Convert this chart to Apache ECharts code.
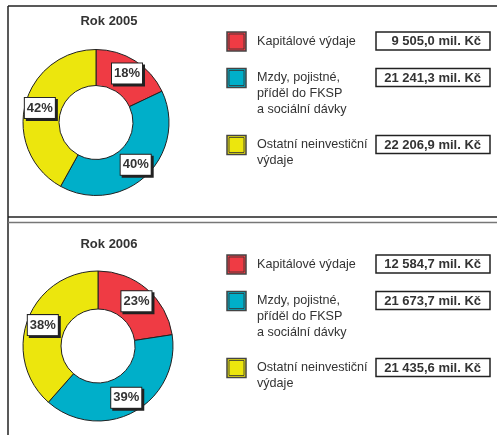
<!DOCTYPE html>
<html>
<head>
<meta charset="utf-8">
<script src="https://cdn.jsdelivr.net/npm/echarts@6/dist/echarts.min.js"></script>
<style>
html,body{margin:0;padding:0;background:#fff;}
#chart{width:497px;height:435px;}
</style>
</head>
<body>
<div id="chart"></div>
<script>
// ---- data ----
const categories = ['Kapitálové výdaje', 'Mzdy, pojistné,\npříděl do FKSP\na sociální dávky', 'Ostatní neinvestiční\nvýdaje'];
const years = ['Rok 2005', 'Rok 2006'];
const values2005 = [9505.0, 21241.3, 22206.9];
const values2006 = [12584.7, 21673.7, 21435.6];
const unit = 'mil. Kč';
const colors = ['#EF3B44', '#00AFC9', '#ECE60D'];

// ---- helpers ----
function fmtCz(v) {
  const parts = v.toFixed(1).split('.');
  const intPart = parts[0].replace(/\B(?=(\d{3})+(?!\d))/g, ' ');
  return intPart + ',' + parts[1] + ' ' + unit;
}

const FONT = '"Liberation Sans", Arial, Helvetica, sans-serif';
const panels = [
  { year: years[0], values: values2005, center: [96, 122.5], radius: [37, 73], titleTop: 10, legendTop: 32 },
  { year: years[1], values: values2006, center: [98, 346], radius: [37, 75], titleTop: 233, legendTop: 255 }
];
const itemOffsets = [0, 36.5, 103.5];

const graphic = [];
// frame lines
graphic.push({ type: 'line', shape: { x1: 8, y1: 6, x2: 8, y2: 435 }, style: { stroke: '#222', lineWidth: 1.5 }, z: 10 });
graphic.push({ type: 'line', shape: { x1: 8, y1: 6, x2: 497, y2: 6 }, style: { stroke: '#222', lineWidth: 1.5 }, z: 10 });
graphic.push({ type: 'line', shape: { x1: 8, y1: 217, x2: 497, y2: 217 }, style: { stroke: '#222', lineWidth: 1.5 }, z: 10 });
graphic.push({ type: 'line', shape: { x1: 8, y1: 222.5, x2: 497, y2: 222.5 }, style: { stroke: '#777', lineWidth: 1.5 }, z: 10 });

const series = [];
const titles = [];
panels.forEach((p, pi) => {
  titles.push({
    text: p.year, left: 104, top: p.titleTop, textAlign: 'center',
    textStyle: { fontFamily: FONT, fontSize: 13, fontWeight: 'bold', color: '#333' }
  });
  series.push({
    type: 'pie',
    center: p.center,
    radius: p.radius,
    startAngle: 90,
    clockwise: true,
    percentPrecision: 0,
    silent: true,
    animation: false,
    data: categories.map((c, i) => ({ name: c, value: p.values[i], itemStyle: { color: colors[i] } })),
    itemStyle: { borderColor: '#222', borderWidth: 1 },
    label: {
      show: true,
      position: 'inside',
      formatter: '{d}%',
      fontFamily: FONT,
      fontSize: 13,
      fontWeight: 'bold',
      color: '#333',
      backgroundColor: '#fff',
      borderColor: '#222',
      borderWidth: 1,
      padding: [4, 2, 3, 2],
      shadowColor: '#222',
      shadowOffsetX: 2,
      shadowOffsetY: 2,
      shadowBlur: 0
    },
    labelLine: { show: false },
    emphasis: { disabled: true }
  });
  categories.forEach((c, i) => {
    const top = p.legendTop + itemOffsets[i];
    graphic.push({ type: 'rect', shape: { x: 227, y: top, width: 19, height: 19 }, style: { fill: colors[i], stroke: '#444', lineWidth: 1.5 } });
    graphic.push({ type: 'rect', shape: { x: 229, y: top + 2, width: 15, height: 15 }, style: { fill: colors[i], stroke: '#333', lineWidth: 0.8 } });
    graphic.push({
      type: 'text', x: 257, y: top + 1.5,
      style: { text: c, font: '12.6px ' + FONT, fill: '#333', lineHeight: 16, verticalAlign: 'top', align: 'left' }
    });
    graphic.push({ type: 'rect', shape: { x: 376, y: top, width: 114, height: 18 }, style: { fill: '#fff', stroke: '#222', lineWidth: 1.5 } });
    graphic.push({
      type: 'text', x: 481, y: top + 9.5,
      style: { text: fmtCz(p.values[i]), font: 'bold 13px ' + FONT, fill: '#333', align: 'right', verticalAlign: 'middle' }
    });
  });
});

const chart = echarts.init(document.getElementById('chart'), null, { renderer: 'canvas' });
chart.setOption({
  backgroundColor: '#fff',
  animation: false,
  title: titles,
  series: series,
  graphic: graphic
});
</script>
</body>
</html>
